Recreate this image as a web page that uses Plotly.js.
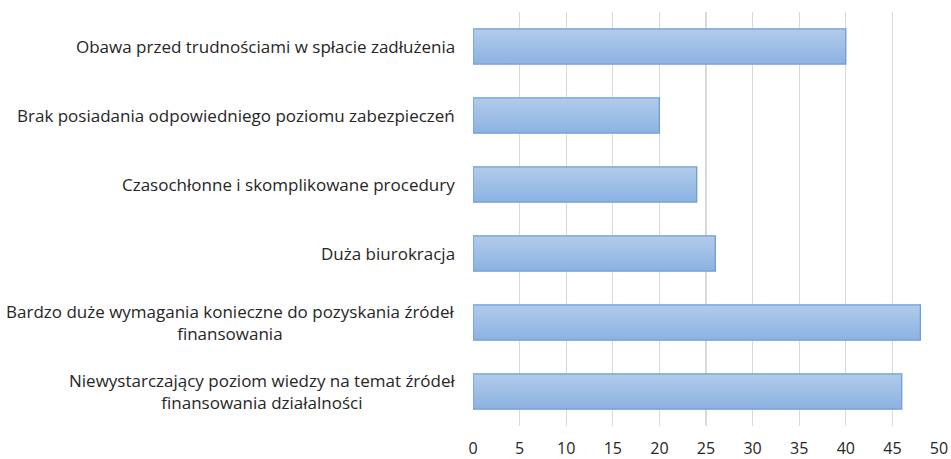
<!DOCTYPE html>
<html>
<head>
<meta charset="utf-8">
<script src="https://cdn.plot.ly/plotly-3.0.1.min.js"></script>
<style>html,body{margin:0;padding:0;background:#fff;} #chart{width:951px;height:459px;}</style>
</head>
<body>
<div id="chart"></div>
<script>
const categories = [
  "Obawa przed trudnościami w spłacie zadłużenia",
  "Brak posiadania odpowiedniego poziomu zabezpieczeń",
  "Czasochłonne i skomplikowane procedury",
  "Duża biurokracja",
  "Bardzo duże wymagania konieczne do pozyskania źródeł<br>finansowania",
  "Niewystarczający poziom wiedzy na temat źródeł<br>finansowania działalności"
];
const values = [40, 20, 24, 26, 48, 46];
const xTicks = [0, 5, 10, 15, 20, 25, 30, 35, 40, 45, 50];

const trace = {
  type: 'bar',
  orientation: 'h',
  y: categories,
  x: values,
  marker: {color: '#9fbfe6', line: {color: '#6e9dd8', width: 1.3}},
  hoverinfo: 'none'
};

const labelAnnotations = categories.map(function (c) {
  return {
    text: c, xref: 'paper', yref: 'y', x: 0, y: c,
    xanchor: 'right', yanchor: 'middle', align: 'center',
    xshift: -16, showarrow: false,
    font: {size: 17, color: '#262626'}
  };
});

const layout = {
  width: 951, height: 459,
  margin: {l: 473, r: 12, t: 12, b: 33},
  paper_bgcolor: '#fff', plot_bgcolor: '#fff',
  bargap: 0.49,
  showlegend: false,
  font: {family: 'Open Sans, sans-serif', size: 15, color: '#262626'},
  annotations: labelAnnotations,
  xaxis: {
    range: [0, 50], tickvals: xTicks, ticktext: xTicks.map(String),
    showgrid: true, gridcolor: '#d9d9d9', gridwidth: 1.3,
    zeroline: false, showline: false, ticks: '',
    ticklabelstandoff: 11,
    tickfont: {size: 16, color: '#262626'}, fixedrange: true
  },
  yaxis: {
    autorange: 'reversed', categoryorder: 'array', categoryarray: categories,
    showgrid: false, zeroline: false, showline: false, ticks: '',
    showticklabels: false, fixedrange: true
  }
};

Plotly.newPlot('chart', [trace], layout, {displayModeBar: false, staticPlot: true}).then(function (gd) {
  const svg = gd.querySelector('svg.main-svg');
  const ns = 'http://www.w3.org/2000/svg';
  let defs = svg.querySelector('defs');
  if (!defs) { defs = document.createElementNS(ns, 'defs'); svg.insertBefore(defs, svg.firstChild); }
  const grad = document.createElementNS(ns, 'linearGradient');
  grad.setAttribute('id', 'barGrad');
  grad.setAttribute('x1', '0'); grad.setAttribute('y1', '0');
  grad.setAttribute('x2', '0'); grad.setAttribute('y2', '1');
  [['0', '#b2cbea'], ['1', '#8cb2e2']].forEach(function (s) {
    const st = document.createElementNS(ns, 'stop');
    st.setAttribute('offset', s[0]); st.setAttribute('stop-color', s[1]);
    grad.appendChild(st);
  });
  defs.appendChild(grad);
  gd.querySelectorAll('.bars .point path').forEach(function (p) {
    p.style.fill = 'url(#barGrad)';
  });
});
</script>
</body>
</html>
